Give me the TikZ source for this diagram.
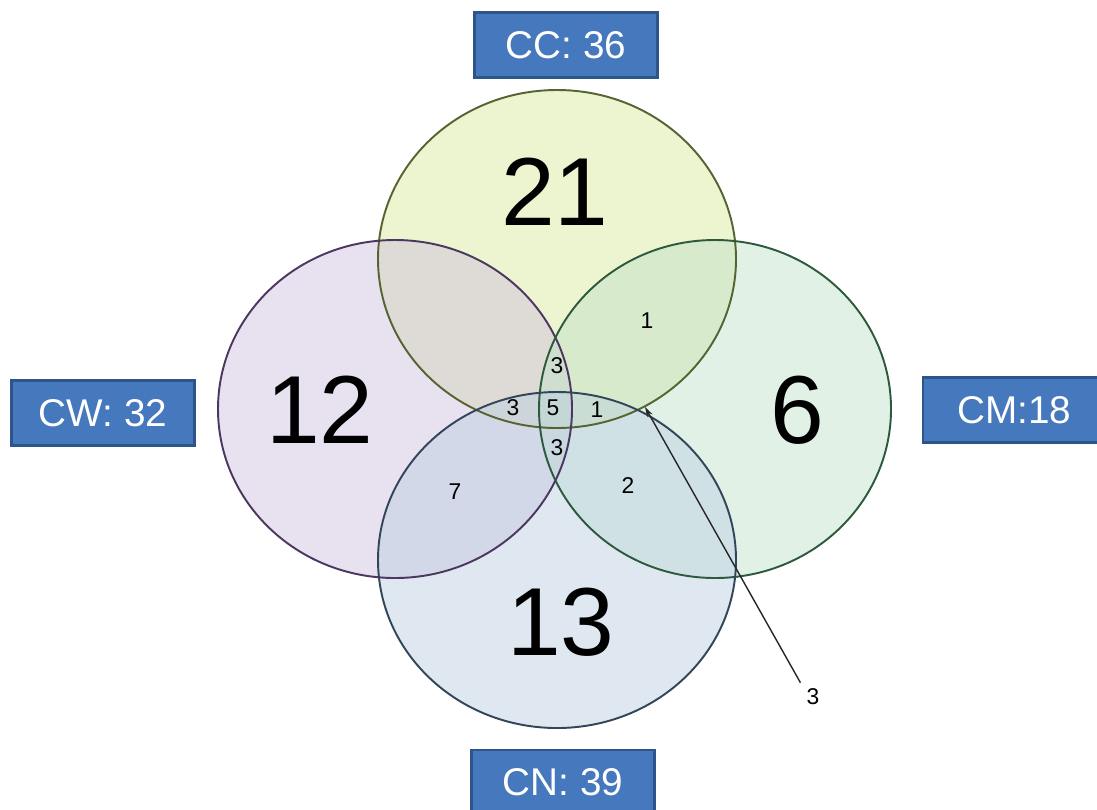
\documentclass[tikz,border=0pt]{standalone}
\usepackage{fontspec}
\setmainfont{Liberation Sans}
\usetikzlibrary{arrows.meta, positioning}
\definecolor{ccfill}{RGB}{214, 230, 150}
\definecolor{ccedge}{RGB}{85, 100, 50}
\definecolor{cwfill}{RGB}{205, 190, 222}
\definecolor{cwedge}{RGB}{75, 55, 95}
\definecolor{cmfill}{RGB}{190, 225, 200}
\definecolor{cmedge}{RGB}{45, 90, 60}
\definecolor{cnfill}{RGB}{185, 205, 225}
\definecolor{cnedge}{RGB}{50, 70, 90}
\definecolor{boxblue}{RGB}{70, 120, 190}
\definecolor{boxedge}{RGB}{45, 85, 140}
\tikzset{
  setfill/.style={fill=#1, fill opacity=0.45, draw=none},
  setedge/.style={draw=#1, line width=1.1pt},
  setlabel/.style={draw=boxedge, fill=boxblue, line width=1.2pt, text=white, font=\fontsize{22}{26}\selectfont, minimum width=3.66cm, minimum height=1.3cm, inner sep=0pt},
  bignum/.style={font=\fontsize{55}{60}\selectfont},
  smallnum/.style={font=\fontsize{13}{15}\selectfont},
  pointer/.style={-{Stealth[length=2mm, width=1.2mm]}, line width=0.8pt, black!85}
}

\begin{document}
\begin{tikzpicture}[x=0.02cm, y=-0.02cm]
    \useasboundingbox (0,0) rectangle (1097,809);

    % --- SET FILLS ---
    \fill[setfill=ccfill] (557,259) ellipse [x radius=179, y radius=169];
    \fill[setfill=cwfill] (395,409) ellipse [x radius=177, y radius=169];
    \fill[setfill=cmfill] (715,409) ellipse [x radius=176, y radius=169];
    \fill[setfill=cnfill] (557,560) ellipse [x radius=179, y radius=168];

    % --- SET OUTLINES ---
    \draw[setedge=ccedge] (557,259) ellipse [x radius=179, y radius=169];
    \draw[setedge=cwedge] (395,409) ellipse [x radius=177, y radius=169];
    \draw[setedge=cmedge] (715,409) ellipse [x radius=176, y radius=169];
    \draw[setedge=cnedge] (557,560) ellipse [x radius=179, y radius=168];

    % --- SET NAMES ---
    \node[setlabel] (cc) at (566,45) {CC: 36};
    \node[setlabel] (cw) at (103,413) {CW: 32};
    \node[setlabel, anchor=west] (cm) at (922,410) {CM:18};
    \node[setlabel, anchor=north] (cn) at (563,749) {CN: 39};

    % --- COUNTS ---
    \node[bignum] (only cc) at (555,192) {21};
    \node[bignum] (only cw) at (320,410) {12};
    \node[bignum] (only cm) at (797,410) {6};
    \node[bignum] (only cn) at (561,622) {13};

    \node[smallnum] (cc cm) at (647,321) {1};
    \node[smallnum] (cc cw cm) at (557,366) {3};
    \node[smallnum] (cc cw cn) at (513,408) {3};
    \node[smallnum] (all) at (553,408) {5};
    \node[smallnum] (cc cm cn) at (597,410) {1};
    \node[smallnum] (cw cm cn) at (557,448) {3};
    \node[smallnum] (cw cn) at (455,492) {7};
    \node[smallnum] (cm cn) at (628,486) {2};
    \node[smallnum] (cc cn) at (813,697) {3};

    % pointer to the small CC/CN overlap
    \coordinate (ccn tip) at (645,407);
    \draw[pointer] (cc cn.north west) -- (ccn tip);
\end{tikzpicture}
\end{document}
